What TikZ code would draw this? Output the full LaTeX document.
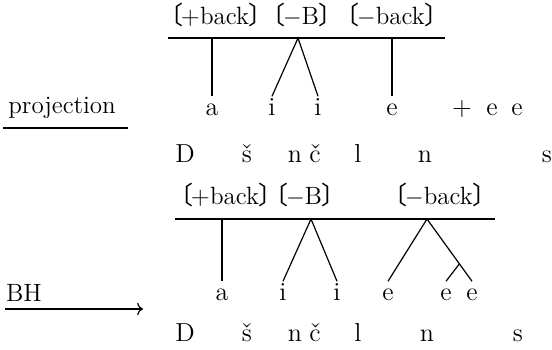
\documentclass[tikz,border=0pt]{standalone}
\usepackage{fontspec}
\newfontfamily\cjk{Noto Sans CJK JP}
\usepackage{tikz}
\usetikzlibrary{arrows.meta, calc}
\newcommand{\izq}{{\cjk 〔}\kern-1.2pt}
\newcommand{\der}{\kern-0.2pt{\cjk 〕}}
\tikzset{
  every picture/.style={x=0.5pt, y=-0.5pt, >=To},
  rasgo/.style={font=\fontsize{12.5}{15}\selectfont, inner sep=0pt},
  segm/.style={font=\fontsize{13}{15}\selectfont, text height=1.5ex, text depth=0.2ex, inner sep=3pt},
  barra/.style={line width=0.7pt},
  rama/.style={line width=0.6pt},
  flecha/.style={->, line width=0.6pt},
}
\begin{document}
\begin{tikzpicture}
  \useasboundingbox (0,0) rectangle (552,349);
  % proyeccion
  \node[rasgo] (f1) at (216,15) {\izq+back\der};
  \node[rasgo] (f2) at (302,15) {\izq$-$B\der};
  \node[rasgo] (f3) at (392,15) {\izq$-$back\der};
  \coordinate (b1l) at (168,38);
  \coordinate (b1r) at (445,38);
  \draw[barra] (b1l) -- (b1r);
  \coordinate (p1) at (212,38);
  \coordinate (p2) at (298,38);
  \coordinate (p3) at (392,38);
  \node[segm] (a1) at (212,110) {a};
  \node[segm] (a2) at (272,110) {i};
  \node[segm] (a3) at (318,110) {i};
  \node[segm] (a4) at (392,110) {e};
  \node[segm] (a5) at (462,110) {+};
  \node[segm] (a6) at (492,110) {e};
  \node[segm] (a7) at (517,110) {e};
  \draw[rama] (p1) -- (a1.north);
  \draw[rama] (a2.north) -- (p2) -- (a3.north);
  \draw[rama] (p3) -- (a4.north);
  \node[segm] (d1) at (185,157) {D};
  \node[segm] (d2) at (247,157) {š};
  \node[segm] (d3) at (295,157) {n};
  \node[segm] (d4) at (315,157) {č};
  \node[segm] (d5) at (358,157) {l};
  \node[segm] (d6) at (425,157) {n};
  \node[segm] (d7) at (547,157) {s};
  \node[rasgo, anchor=west] (proy) at (8,108) {projection};
  \coordinate (u1) at (3,128);
  \coordinate (u2) at (128,128);
  \draw[rama] (u1) -- (u2);
  % BH
  \node[rasgo] (g1) at (226,195) {\izq+back\der};
  \node[rasgo] (g2) at (305,195) {\izq$-$B\der};
  \node[rasgo] (g3) at (440,195) {\izq$-$back\der};
  \coordinate (b2l) at (175,219);
  \coordinate (b2r) at (495,219);
  \draw[barra] (b2l) -- (b2r);
  \coordinate (q1) at (222,219);
  \coordinate (q2) at (311,219);
  \coordinate (q3) at (427,219);
  \node[segm] (c1) at (222,295) {a};
  \node[segm] (c2) at (283,295) {i};
  \node[segm] (c3) at (337,295) {i};
  \node[segm] (c4) at (388,295) {e};
  \node[segm] (c5) at (446,295) {e};
  \node[segm] (c6) at (472,295) {e};
  \draw[rama] (q1) -- (c1.north);
  \draw[rama] (c2.north) -- (q2) -- (c3.north);
  \draw[rama] (c4.north) -- (q3) -- (c6.north);
  \coordinate (q4) at ($(q3)!0.72!(c6.north)$);
  \draw[rama] (q4) -- (c5.north);
  \node[segm] (e1) at (185,336) {D};
  \node[segm] (e2) at (247,336) {š};
  \node[segm] (e3) at (295,336) {n};
  \node[segm] (e4) at (315,336) {č};
  \node[segm] (e5) at (358,336) {l};
  \node[segm] (e6) at (427,336) {n};
  \node[segm] (e7) at (518,336) {s};
  \node[rasgo] (bh) at (24,293) {BH};
  \coordinate (s1) at (5,309);
  \coordinate (s2) at (143,309);
  \draw[flecha] (s1) -- (s2);
\end{tikzpicture}
\end{document}
